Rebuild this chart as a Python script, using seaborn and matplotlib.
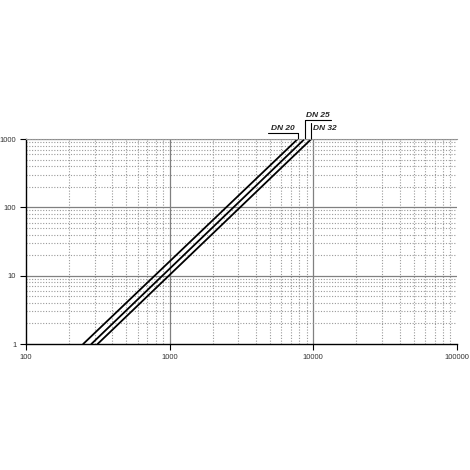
import pandas as pd
import seaborn as sns
import matplotlib.pyplot as plt
from matplotlib.ticker import LogLocator, FixedLocator, NullFormatter

# Pipe sizes and line end points (flow vs. pressure loss, log-log)
sizes = ["DN 20", "DN 25", "DN 32"]
flow_start = [250, 285, 315]
flow_end = [7800, 8700, 9700]
loss_start = [1, 1, 1]
loss_end = [1000, 1000, 1000]

x_ticks = [100, 1000, 10000, 100000]
x_labels = ["100", "1000", "10000", "100000"]
y_ticks = [1, 10, 100, 1000]
y_labels = ["1", "10", "100", "1000"]

rows = []
for i in range(len(sizes)):
    rows.append({"size": sizes[i], "flow": flow_start[i], "loss": loss_start[i]})
    rows.append({"size": sizes[i], "flow": flow_end[i], "loss": loss_end[i]})
df = pd.DataFrame(rows)

sns.set_style("white")
plt.rcParams['font.family'] = ['Liberation Sans', 'DejaVu Sans']

fig = plt.figure(figsize=(4.7, 4.7), dpi=100)
ax = fig.add_axes([0.0553, 0.268, 0.9167, 0.4362])

sns.lineplot(data=df, x="flow", y="loss", hue="size", palette=["black"] * 3,
             linewidth=1.3, legend=False, ax=ax, estimator=None, sort=False)

ax.set_xscale("log")
ax.set_yscale("log")
ax.set_xlim(100, 100000)
ax.set_ylim(1, 1000)
ax.xaxis.set_major_locator(FixedLocator(x_ticks))
ax.set_xticklabels(x_labels)
ax.yaxis.set_major_locator(FixedLocator(y_ticks))
ax.set_yticklabels(y_labels)
ax.xaxis.set_minor_locator(LogLocator(base=10, subs=range(2, 10)))
ax.yaxis.set_minor_locator(LogLocator(base=10, subs=range(2, 10)))
ax.xaxis.set_minor_formatter(NullFormatter())
ax.yaxis.set_minor_formatter(NullFormatter())
ax.set_xlabel("")
ax.set_ylabel("")

ax.grid(which="major", color="#808080", linewidth=0.9, linestyle="-")
ax.grid(which="minor", color="#9a9a9a", linewidth=0.8, linestyle=(0, (1, 1.5)))
ax.set_axisbelow(True)
for t in ax.xaxis.get_major_ticks():
    if t.get_loc() in (100, 100000):
        t.gridline.set_visible(False)
for t in ax.yaxis.get_major_ticks():
    if t.get_loc() == 1:
        t.gridline.set_visible(False)

ax.tick_params(which="major", direction="out", length=4, width=0.8,
               labelsize=5.5, color="black", left=True, bottom=True, pad=3,
               labelcolor="#333333")
ax.tick_params(which="minor", length=0)

ax.spines["right"].set_visible(False)
ax.spines["top"].set_color("#9a9a9a")
ax.spines["top"].set_linestyle((0, (1, 1.5)))
ax.spines["top"].set_linewidth(0.8)
for s in ("left", "bottom"):
    ax.spines[s].set_color("black")
    ax.spines[s].set_linewidth(1.0)

# label leaders above the plot
trans = ax.get_xaxis_transform()
lbl = dict(fontsize=6, fontweight="bold", fontstyle="italic", transform=trans,
           clip_on=False)
# DN 20: underline to the left
x0 = flow_end[0]
ax.plot([x0, x0], [1.0, 1.029], color="black", lw=0.8, transform=trans, clip_on=False)
ax.plot([x0 / 1.62, x0], [1.029, 1.029], color="black", lw=0.8, transform=trans, clip_on=False)
ax.text(x0 / 1.28, 1.036, sizes[0], ha="center", va="bottom", **lbl)
# DN 25: underline to the right
x1 = flow_end[1]
ax.plot([x1, x1], [1.0, 1.093], color="black", lw=0.8, transform=trans, clip_on=False)
ax.plot([x1, x1 * 1.52], [1.093, 1.093], color="black", lw=0.8, transform=trans, clip_on=False)
ax.text(x1 * 1.24, 1.100, sizes[1], ha="center", va="bottom", **lbl)
# DN 32: label to the right of its leader
x2 = flow_end[2]
ax.plot([x2, x2], [1.0, 1.078], color="black", lw=0.8, transform=trans, clip_on=False)
ax.text(x2 * 1.03, 1.036, sizes[2], ha="left", va="bottom", **lbl)

fig.savefig("out.png", dpi=100)
